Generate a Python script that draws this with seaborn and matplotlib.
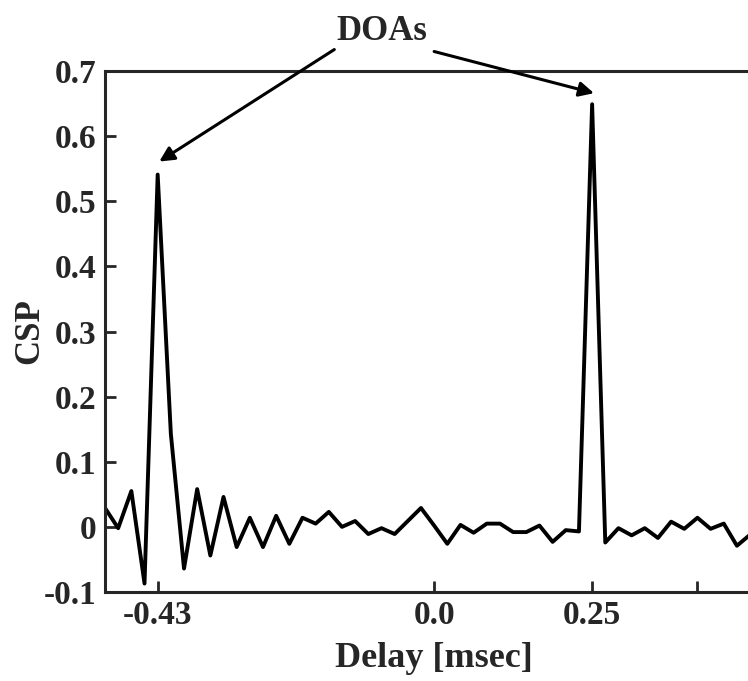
import matplotlib
matplotlib.use("Agg")
import matplotlib.pyplot as plt
import seaborn as sns
import numpy as np
import pandas as pd

# delay in samples (48 kHz), CSP values
lag_samples = list(range(-25, 25))
csp = [0.029, -0.002, 0.055, -0.087, 0.541, 0.143, -0.064, 0.058, -0.044, 0.046,
       -0.031, 0.014, -0.031, 0.017, -0.026, 0.014, 0.005, 0.023, 0.000, 0.009,
       -0.011, -0.002, -0.011, 0.009, 0.029, 0.002, -0.026, 0.003, -0.009, 0.005,
       0.005, -0.008, -0.008, 0.002, -0.023, -0.005, -0.007, 0.649, -0.024, -0.002,
       -0.013, -0.002, -0.017, 0.008, -0.003, 0.014, -0.003, 0.005, -0.029, -0.012]
fs_khz = 48.0

xtick_pos = [-21 / fs_khz, 0.0, 12 / fs_khz, 20 / fs_khz]
xtick_labels = ["-0.43", "0.0", "0.25", ""]
ytick_pos = [-0.1, 0.0, 0.1, 0.2, 0.3, 0.4, 0.5, 0.6, 0.7]
ytick_labels = ["-0.1", "0", "0.1", "0.2", "0.3", "0.4", "0.5", "0.6", "0.7"]

df = pd.DataFrame({"delay": np.array(lag_samples) / fs_khz, "csp": csp})

sns.set_style("ticks")
plt.rcParams["font.family"] = ["Liberation Serif", "DejaVu Serif"]
plt.rcParams["font.weight"] = "bold"

fig = plt.figure(figsize=(7.48, 6.81), dpi=100)
ax = fig.add_axes([0.1404, 0.1307, 0.880, 0.765])

sns.lineplot(data=df, x="delay", y="csp", ax=ax, color="black", linewidth=2.8)

ax.set_xlim(-25 / fs_khz, 25 / fs_khz)
ax.set_ylim(-0.1, 0.7)
ax.set_xticks(xtick_pos)
ax.set_xticklabels(xtick_labels)
ax.set_yticks(ytick_pos)
ax.set_yticklabels(ytick_labels)
ax.tick_params(direction="in", length=8, width=2, labelsize=24, pad=6)
for lab in ax.get_xticklabels() + ax.get_yticklabels():
    lab.set_fontweight("bold")
for s in ax.spines.values():
    s.set_linewidth(2.2)
ax.spines["right"].set_visible(False)

ax.set_xlabel("Delay [msec]", fontsize=26, fontweight="bold", labelpad=8)
ax.set_ylabel("CSP", fontsize=25, fontweight="bold", labelpad=-2)

# annotation
ax.text(-0.082, 0.761, "DOAs", fontsize=25, fontweight="bold",
        ha="center", va="center", clip_on=False)
arrow = dict(arrowstyle="-|>", color="black", lw=2.2, mutation_scale=22,
             shrinkA=0, shrinkB=0)
ax.annotate("", xy=(-0.435, 0.561), xytext=(-0.158, 0.733),
            arrowprops=arrow, annotation_clip=False)
ax.annotate("", xy=(0.253, 0.666), xytext=(0.0, 0.730),
            arrowprops=arrow, annotation_clip=False)

fig.savefig("out.png", dpi=100, facecolor="white")
